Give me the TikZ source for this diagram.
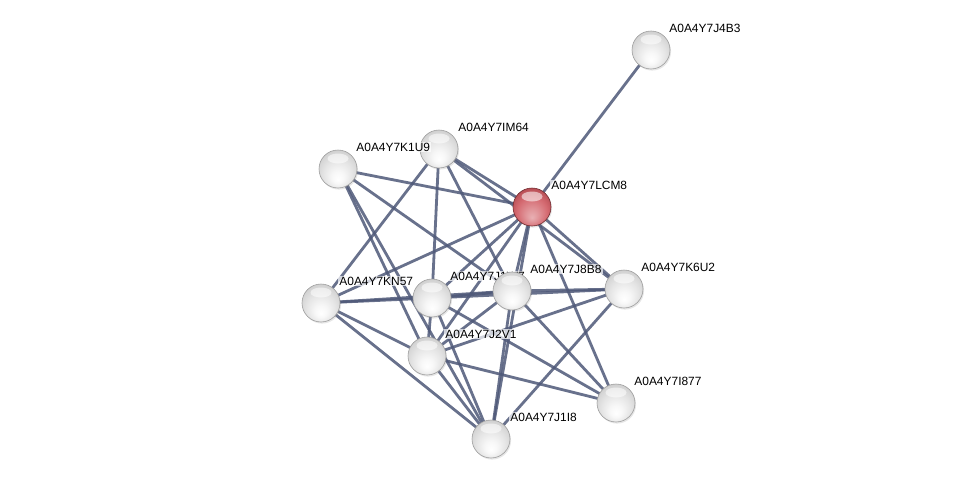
\documentclass[tikz,border=0pt]{standalone}
\usepackage{fontspec}
\setmainfont{Liberation Sans}
\usepackage{xcolor}
\usetikzlibrary{shadows}

\definecolor{edgeblue}{RGB}{78,88,120}
\definecolor{nodered}{RGB}{205,80,88}
\pgfdeclareradialshading{sphere}{\pgfpoint{0bp}{-14bp}}{color(0bp)=(white); color(8bp)=(gray!6); color(20bp)=(gray!22); color(32bp)=(gray!42); color(40bp)=(gray!55)}
\pgfdeclareradialshading{redsphere}{\pgfpoint{0bp}{-14bp}}{color(0bp)=(nodered!45!white); color(8bp)=(nodered!60!white); color(20bp)=(nodered!85!white); color(32bp)=(nodered!85!black); color(40bp)=(nodered!70!black)}

\begin{document}
\begin{tikzpicture}
	[x=0.02cm, y=-0.02cm,
	 edge/.style={edgeblue, line width=1.6pt, opacity=0.85},
	 protein/.style={circle, minimum size=0.76cm, inner sep=0pt, shading=sphere, draw=gray!75, line width=0.35pt,
	   drop shadow={opacity=0.2, shadow xshift=0.6pt, shadow yshift=-0.9pt},
	   path picture={\fill[white, opacity=0.55] ([yshift=0.21cm]path picture bounding box.center) ellipse (0.21cm and 0.1cm);}},
	 query/.style={protein, shading=redsphere, draw=nodered!55!black},
	 lbl/.style={anchor=west, inner sep=0.6pt, fill=white, fill opacity=0.7, text opacity=1, font=\fontsize{6.8}{8}\selectfont}]

	\useasboundingbox (0,0) rectangle (976,484);

	% positions
	\coordinate (j4b3) at (651,50);
	\coordinate (lcm8) at (532,207);
	\coordinate (im64) at (439,149);
	\coordinate (k1u9) at (338,169);
	\coordinate (kn57) at (321,303);
	\coordinate (j)    at (432,298);
	\coordinate (j8b8) at (512,291);
	\coordinate (k6u2) at (624,289);
	\coordinate (j2v1) at (427,356);
	\coordinate (i877) at (616,403);
	\coordinate (j1i8) at (491,439);

	% edges
	\draw[edge] (j4b3) -- (lcm8);
	\foreach \b in {k1u9,im64,kn57,j,j8b8,k6u2,j2v1,j1i8,i877}
		\draw[edge] (lcm8) -- (\b);
	\foreach \b in {kn57,j,j8b8,k6u2}
		\draw[edge] (im64) -- (\b);
	\foreach \b in {j8b8,j2v1,j1i8}
		\draw[edge] (k1u9) -- (\b);
	\foreach \b in {j,j8b8,j2v1,j1i8}
		\draw[edge] (kn57) -- (\b);
	\foreach \b in {j8b8,k6u2,j2v1,j1i8,i877}
		\draw[edge] (j) -- (\b);
	\foreach \b in {k6u2,j2v1,j1i8,i877}
		\draw[edge] (j8b8) -- (\b);
	\foreach \b in {j2v1,j1i8}
		\draw[edge] (k6u2) -- (\b);
	\foreach \b in {i877,j1i8}
		\draw[edge] (j2v1) -- (\b);

	% hidden one first: its label goes under J8B8
	\node[protein] (n-j) at (j) {};
	\node[lbl] (j-l) at (449,276) {A0A4Y7J1W7};

	% proteins
	\node[protein] (n-j4b3) at (j4b3) {};
	\node[protein] (n-im64) at (im64) {};
	\node[protein] (n-k1u9) at (k1u9) {};
	\node[protein] (n-kn57) at (kn57) {};
	\node[protein] (n-j8b8) at (j8b8) {};
	\node[protein] (n-k6u2) at (k6u2) {};
	\node[protein] (n-j2v1) at (j2v1) {};
	\node[protein] (n-i877) at (i877) {};
	\node[protein] (n-j1i8) at (j1i8) {};
	\node[query]   (n-lcm8) at (lcm8) {};

	% labels
	\node[lbl] (j4b3-l) at (668,28)  {A0A4Y7J4B3};
	\node[lbl] (lcm8-l) at (550,185) {A0A4Y7LCM8};
	\node[lbl] (im64-l) at (457,127) {A0A4Y7IM64};
	\node[lbl] (k1u9-l) at (355,147) {A0A4Y7K1U9};
	\node[lbl] (kn57-l) at (338,281) {A0A4Y7KN57};
	\node[lbl] (j8b8-l) at (529,269) {A0A4Y7J8B8};
	\node[lbl] (k6u2-l) at (640,267) {A0A4Y7K6U2};
	\node[lbl] (j2v1-l) at (444,334) {A0A4Y7J2V1};
	\node[lbl] (i877-l) at (633,381) {A0A4Y7I877};
	\node[lbl] (j1i8-l) at (509,417) {A0A4Y7J1I8};

\end{tikzpicture}
\end{document}
